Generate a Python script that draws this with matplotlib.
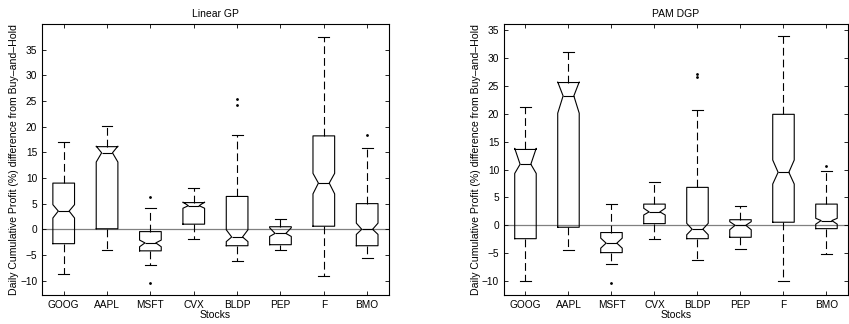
import matplotlib
matplotlib.use("Agg")
import matplotlib.pyplot as plt

plt.rcParams['font.family'] = ['Liberation Sans', 'DejaVu Sans']

stocks = ['GOOG', 'AAPL', 'MSFT', 'CVX', 'BLDP', 'PEP', 'F', 'BMO']

# Linear GP : statistiques
lin_whislo = [-8.7, -4.0, -6.9, -1.9, -6.1, -4.0, -9.1, -5.6]
lin_q1     = [-2.8, 0.1, -4.2, 1.0, -3.2, -3.0, 0.6, -3.2]
lin_cilo   = [2.2, 13.1, -3.4, 4.1, -2.4, -1.4, 6.9, -1.0]
lin_med    = [3.55, 14.9, -2.65, 4.6, -1.5, -0.8, 9.0, 0.0]
lin_cihi   = [4.8, 16.2, -2.1, 5.3, -0.1, 0.3, 10.9, 1.2]
lin_q3     = [9.0, 16.1, -0.45, 5.2, 6.4, 0.5, 18.2, 5.0]
lin_whishi = [17.1, 20.2, 4.1, 8.0, 18.3, 2.1, 37.4, 15.8]
lin_fliers = [[], [], [6.3, -10.4], [], [25.3, 24.3], [], [], [18.3]]

# PAM DGP
dgp_whislo = [-10.0, -4.4, -7.0, -2.5, -6.2, -4.3, -10.0, -5.1]
dgp_q1     = [-2.4, -0.35, -4.9, 0.3, -2.4, -2.15, 0.55, -0.6]
dgp_cilo   = [9.3, 20.1, -4.1, 1.85, -1.7, -0.8, 7.4, 0.2]
dgp_med    = [10.95, 23.2, -3.2, 2.4, -0.7, 0.0, 9.5, 0.85]
dgp_cihi   = [13.8, 25.7, -2.3, 3.05, 0.35, 0.65, 11.7, 1.25]
dgp_q3     = [13.6, 25.6, -1.3, 3.8, 6.8, 1.0, 19.9, 3.8]
dgp_whishi = [21.2, 31.1, 3.8, 7.7, 20.6, 3.5, 33.9, 9.75]
dgp_fliers = [[], [], [-10.4], [], [27.2, 26.6], [], [], [10.7]]


def make_stats(lo, q1, cilo, med, cihi, q3, hi, fl):
    stats = []
    for i in range(len(stocks)):
        stats.append(dict(whislo=lo[i], q1=q1[i], cilo=cilo[i], med=med[i],
                          cihi=cihi[i], q3=q3[i], whishi=hi[i], fliers=fl[i]))
    return stats


panels = [
    ("Linear GP", make_stats(lin_whislo, lin_q1, lin_cilo, lin_med, lin_cihi,
                             lin_q3, lin_whishi, lin_fliers), (-12.8, 40)),
    ("PAM DGP", make_stats(dgp_whislo, dgp_q1, dgp_cilo, dgp_med, dgp_cihi,
                           dgp_q3, dgp_whishi, dgp_fliers), (-12.5, 36.1)),
]

fig = plt.figure(figsize=(8.49, 3.24), dpi=100)
ax_pos = [[0.0495, 0.0895, 0.4085, 0.8365], [0.5936, 0.0895, 0.4052, 0.8365]]

for (title, stats, ylim), pos in zip(panels, ax_pos):
    ax = fig.add_axes(pos)
    ax.axhline(0, color='0.5', lw=0.9, zorder=1)
    ax.bxp(stats, positions=range(1, 9), widths=0.5, shownotches=True,
           boxprops=dict(color='black', lw=0.8),
           whiskerprops=dict(color='black', lw=0.8, linestyle=(0, (7, 3.6))),
           capprops=dict(color='black', lw=0.8),
           medianprops=dict(color='black', lw=0.8),
           flierprops=dict(marker='.', markerfacecolor='black',
                           markeredgecolor='black', markersize=2))
    ax.set_xlim(0.5, 8.5)
    ax.set_ylim(*ylim)
    ax.set_yticks(range(-10, 40, 5))
    ax.set_xticks(range(1, 9))
    ax.set_xticklabels(stocks)
    ax.tick_params(direction='in', top=True, right=True, labelsize=7.3,
                   length=3, width=0.6)
    for s in ax.spines.values():
        s.set_linewidth(0.8)
    ax.set_title(title, fontsize=7.5, pad=5)
    ax.set_xlabel("Stocks", fontsize=7.5, labelpad=0)
    ax.set_ylabel("Daily Cumulative Profit (%) difference from Buy\u2013and\u2013Hold",
                  fontsize=7.6, labelpad=1)

fig.savefig("out.png", dpi=100)
